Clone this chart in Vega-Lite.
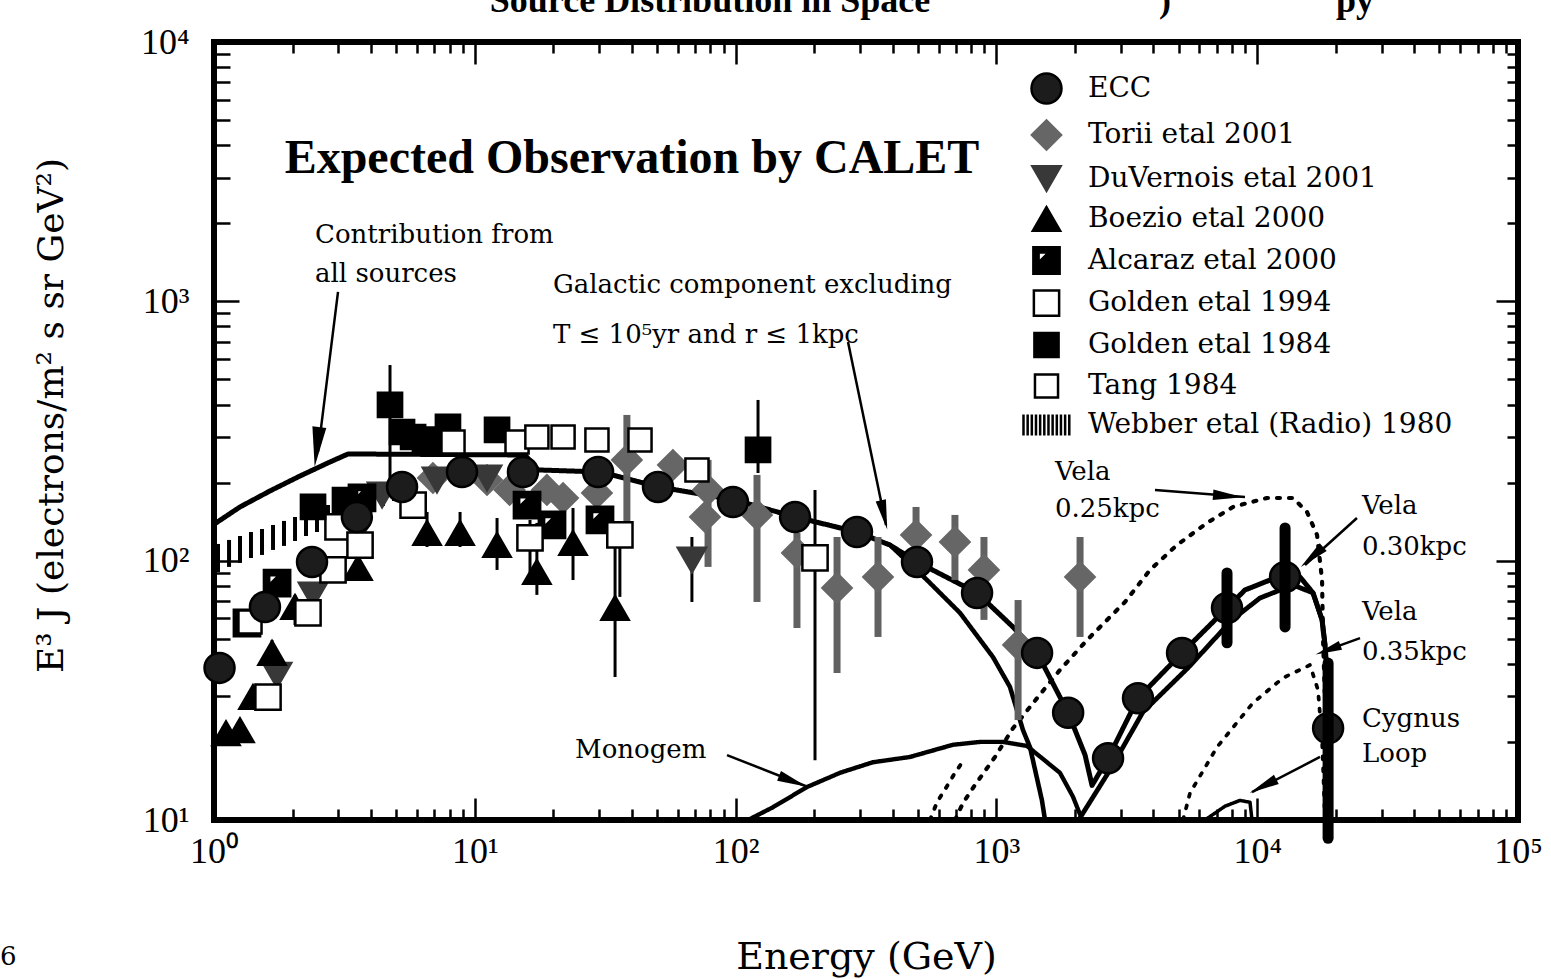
{
"$schema": "https://vega.github.io/schema/vega-lite/v6.json",
"width": 1304, "height": 778,
"autosize": {"type": "none"},
"padding": {"left": 214, "top": 42, "right": 33, "bottom": 159},
"background": "white",
"config": {"view": {"stroke": "black", "strokeWidth": 6}, "axis": {"grid": false, "domain": false}},
"datasets": {
"webber": [
{"E":1.036,"J":90.4,"J2":116.0},{"E":1.142,"J":94.6,"J2":120.2},{"E":1.258,"J":98.0,"J2":124.5},{"E":1.386,"J":102.4,"J2":129.0},
{"E":1.528,"J":105.2,"J2":132.5},{"E":1.684,"J":110.0,"J2":137.3},{"E":1.855,"J":114.0,"J2":142.3},{"E":2.045,"J":119.1,"J2":147.4},
{"E":2.253,"J":124.5,"J2":152.8},{"E":2.483,"J":129.0,"J2":158.2},{"E":2.736,"J":134.9,"J2":163.9},{"E":3.015,"J":138.5,"J2":168.4},
{"E":3.323,"J":144.8,"J2":174.5},{"E":3.662,"J":150.1,"J2":180.8},{"E":4.036,"J":156.9,"J2":187.4},{"E":4.446,"J":162.5,"J2":194.2},
{"E":4.9,"J":169.9,"J2":201.2},{"E":5.4,"J":177.6,"J2":208.4}],
"curves": [
{"curve":"total","E":1.018,"J":139.8},{"curve":"total","E":1.258,"J":161.1},{"curve":"total","E":1.639,"J":185.7},{"curve":"total","E":2.137,"J":212.1},
{"curve":"total","E":2.785,"J":240.2},{"curve":"total","E":3.265,"J":257.9},{"curve":"total","E":15.58,"J":255.6},{"curve":"total","E":17.47,"J":223.8},
{"curve":"total","E":30.2,"J":219.8},{"curve":"total","E":50.85,"J":192.4},{"curve":"total","E":99.5,"J":171.4},{"curve":"total","E":169,"J":147.4},
{"curve":"total","E":292,"J":129.0},{"curve":"total","E":390.8,"J":114.9},{"curve":"total","E":496,"J":98.9},{"curve":"total","E":843,"J":75.1},
{"curve":"total","E":1158,"J":55.5},{"curve":"total","E":1432,"J":44.1},{"curve":"total","E":1884,"J":25.9},{"curve":"total","E":2188,"J":17.8},
{"curve":"total","E":2326,"J":13.6},{"curve":"total","E":2680,"J":17.3},{"curve":"total","E":3491,"J":29.5},{"curve":"total","E":5150,"J":44.1},
{"curve":"total","E":7661,"J":65.7},{"curve":"total","E":8980,"J":77.1},{"curve":"total","E":11195,"J":84.2},{"curve":"total","E":14590,"J":86.5},
{"curve":"total","E":16370,"J":75.1},{"curve":"total","E":17730,"J":59.1},{"curve":"total","E":18200,"J":47.3},{"curve":"total","E":18520,"J":37.2},
{"curve":"vela30","E":2093,"J":10.2},{"curve":"vela30","E":2727,"J":15.6},{"curve":"vela30","E":3648,"J":26.1},{"curve":"vela30","E":5428,"J":38.6},
{"curve":"vela30","E":8006,"J":59.1},{"curve":"vela30","E":10250,"J":71.8},{"curve":"vela30","E":13720,"J":80.6},{"curve":"vela30","E":16370,"J":75.1},
{"curve":"vela30","E":17730,"J":59.1},{"curve":"vela30","E":18200,"J":47.3},
{"curve":"galactic","E":390.8,"J":114.9},{"curve":"galactic","E":542,"J":84.2},{"curve":"galactic","E":725,"J":62.9},{"curve":"galactic","E":970,"J":42.5},
{"curve":"galactic","E":1127,"J":32.6},{"curve":"galactic","E":1265,"J":22.2},{"curve":"galactic","E":1345,"J":19.1},{"curve":"galactic","E":1495,"J":11.9},
{"curve":"galactic","E":1536,"J":10.0},
{"curve":"monogem","E":111.6,"J":10.0},{"curve":"monogem","E":139.1,"J":11.2},{"curve":"monogem","E":187.8,"J":13.4},{"curve":"monogem","E":251.3,"J":15.2},
{"curve":"monogem","E":336.4,"J":16.7},{"curve":"monogem","E":466.5,"J":17.5},{"curve":"monogem","E":681.7,"J":19.5},{"curve":"monogem","E":865,"J":20.0},
{"curve":"monogem","E":1060,"J":20.0},{"curve":"monogem","E":1310,"J":19.3},{"curve":"monogem","E":1753,"J":15.2},{"curve":"monogem","E":1966,"J":12.3},
{"curve":"monogem","E":2093,"J":10.5},
{"curve":"vela25a","E":693.8,"J":10.0},{"curve":"vela25a","E":744.7,"J":11.63},{"curve":"vela25a","E":828,"J":13.65},{"curve":"vela25a","E":987.6,"J":17.5},
{"curve":"vela25a","E":1158,"J":22.6},{"curve":"vela25a","E":1431,"J":29.5},{"curve":"vela25a","E":1753,"J":37.9},{"curve":"vela25a","E":2226,"J":49.4},
{"curve":"vela25a","E":2497,"J":55.5},{"curve":"vela25a","E":3112,"J":69.3},{"curve":"vela25a","E":3882,"J":92.1},{"curve":"vela25a","E":4926,"J":114.9},
{"curve":"vela25a","E":6420,"J":139.8},{"curve":"vela25a","E":8076,"J":161.1},{"curve":"vela25a","E":10905,"J":174.5},{"curve":"vela25a","E":13720,"J":174.5},
{"curve":"vela25a","E":15523,"J":154.1},{"curve":"vela25a","E":16961,"J":125.6},{"curve":"vela25a","E":17730,"J":84.2},{"curve":"vela25a","E":17887,"J":49.4},
{"curve":"vela25a","E":18197,"J":29.0},{"curve":"vela25a","E":18686,"J":17.0},{"curve":"vela25a","E":19016,"J":10.0},
{"curve":"vela25b","E":556.5,"J":10.0},{"curve":"vela25b","E":591.9,"J":11.7},{"curve":"vela25b","E":646.6,"J":13.5},{"curve":"vela25b","E":693.8,"J":15.2},
{"curve":"vela25b","E":757.9,"J":17.3},
{"curve":"vela35","E":5195,"J":10.0},{"curve":"vela35","E":5525,"J":12.7},{"curve":"vela35","E":7014,"J":19.1},{"curve":"vela35","E":9636,"J":28.3},
{"curve":"vela35","E":12560,"J":35.3},{"curve":"vela35","E":15940,"J":39.6},{"curve":"vela35","E":17110,"J":31.7},{"curve":"vela35","E":17730,"J":20.3},
{"curve":"vela35","E":18197,"J":10.0},
{"curve":"cygnus","E":6306,"J":10.0},{"curve":"cygnus","E":7525,"J":11.3},{"curve":"cygnus","E":8590,"J":11.9},{"curve":"cygnus","E":9385,"J":11.7},
{"curve":"cygnus","E":9550,"J":10.0}],
"errGray": [
{"E":38.3,"J":137.3,"J2":364.7},{"E":78.4,"J":94.6,"J2":244.6},{"E":120.8,"J":69.3,"J2":214.1},{"E":171.9,"J":55.0,"J2":127.9},
{"E":244.9,"J":36.9,"J2":123.4},{"E":351.6,"J":50.8,"J2":123.4},{"E":491.9,"J":112.9,"J2":161.1},{"E":693.5,"J":84.2,"J2":150.1},
{"E":896,"J":59.1,"J2":123.4},{"E":1211,"J":24.3,"J2":70.5},{"E":2093,"J":50.8,"J2":123.4}],
"errBlack": [
{"E":1.669,"J":39.6,"J2":49.4},{"E":2.045,"J":56.5,"J2":73.8},{"E":3.566,"J":84.2,"J2":127.9},{"E":6.56,"J":112.9,"J2":154.1},
{"E":8.78,"J":112.9,"J2":154.1},{"E":12.17,"J":92.1,"J2":146.1},{"E":17.3,"J":73.8,"J2":139.8},{"E":23.8,"J":84.2,"J2":159.7},
{"E":34.5,"J":35.6,"J2":139.8},{"E":4.73,"J":204.7,"J2":568},{"E":121.9,"J":217.8,"J2":416.6},{"E":201.6,"J":17.0,"J2":187.4},
{"E":36.0,"J":72.5,"J2":125.6},{"E":16.28,"J":84.2,"J2":143.5},{"E":68.0,"J":69.3,"J2":123.4}],
"errECC": [{"E":7661,"J":48.2,"J2":89.7},{"E":12790,"J":55.5,"J2":133.7},{"E":18700,"J":8.5,"J2":40.3}],
"pts": [
{"series":"Torii etal 2001","E":6.91,"J":208.4},{"series":"Torii etal 2001","E":11.14,"J":204.7},{"series":"Torii etal 2001","E":13.6,"J":187.4},
{"series":"Torii etal 2001","E":18.9,"J":187.4},{"series":"Torii etal 2001","E":21.8,"J":174.5},{"series":"Torii etal 2001","E":29.4,"J":182.4},
{"series":"Torii etal 2001","E":38.3,"J":244.6},{"series":"Torii etal 2001","E":57.5,"J":233.9},{"series":"Torii etal 2001","E":78.4,"J":187.4},
{"series":"Torii etal 2001","E":76.3,"J":147.4},{"series":"Torii etal 2001","E":120.8,"J":150.1},{"series":"Torii etal 2001","E":171.9,"J":107.1},
{"series":"Torii etal 2001","E":244.9,"J":78.5},{"series":"Torii etal 2001","E":351.6,"J":86.5},{"series":"Torii etal 2001","E":491.9,"J":125.6},
{"series":"Torii etal 2001","E":693.5,"J":118.1},{"series":"Torii etal 2001","E":896,"J":92.1},{"series":"Torii etal 2001","E":1211,"J":47.3},
{"series":"Torii etal 2001","E":2093,"J":86.5},
{"series":"DuVernois etal 2001","E":1.745,"J":36.2},{"series":"DuVernois etal 2001","E":2.397,"J":73.8},{"series":"DuVernois etal 2001","E":3.47,"J":123.4},
{"series":"DuVernois etal 2001","E":4.41,"J":179.2},{"series":"DuVernois etal 2001","E":7.16,"J":204.7},{"series":"DuVernois etal 2001","E":11.14,"J":208.4},
{"series":"DuVernois etal 2001","E":68.0,"J":100.6},
{"series":"Boezio etal 2000","E":1.112,"J":21.6},{"series":"Boezio etal 2000","E":1.258,"J":22.2},{"series":"Boezio etal 2000","E":1.411,"J":29.8},
{"series":"Boezio etal 2000","E":1.669,"J":44.1},{"series":"Boezio etal 2000","E":2.045,"J":66.3},{"series":"Boezio etal 2000","E":3.566,"J":93.7},
{"series":"Boezio etal 2000","E":6.56,"J":127.9},{"series":"Boezio etal 2000","E":8.78,"J":127.9},{"series":"Boezio etal 2000","E":12.17,"J":114.9},
{"series":"Boezio etal 2000","E":17.3,"J":90.4},{"series":"Boezio etal 2000","E":23.8,"J":117.0},{"series":"Boezio etal 2000","E":34.5,"J":65.7},
{"series":"Alcaraz etal 2000","E":1.338,"J":57.5},{"series":"Alcaraz etal 2000","E":1.745,"J":82.0},{"series":"Alcaraz etal 2000","E":3.694,"J":174.5},
{"series":"Alcaraz etal 2000","E":15.86,"J":163.9},{"series":"Alcaraz etal 2000","E":19.77,"J":137.3},{"series":"Alcaraz etal 2000","E":30.2,"J":143.5},
{"series":"Golden etal 1994","E":1.611,"J":29.8},{"series":"Golden etal 1994","E":2.293,"J":62.9},{"series":"Golden etal 1994","E":2.86,"J":92.1},
{"series":"Golden etal 1994","E":2.989,"J":134.9},{"series":"Golden etal 1994","E":3.63,"J":114.9},{"series":"Golden etal 1994","E":5.8,"J":163.9},
{"series":"Golden etal 1994","E":16.28,"J":122.3},{"series":"Golden etal 1994","E":36.0,"J":125.6},{"series":"Golden etal 1994","E":201.6,"J":102.4},
{"series":"Golden etal 1984","E":2.397,"J":161.1},{"series":"Golden etal 1984","E":3.179,"J":171.4},{"series":"Golden etal 1984","E":4.73,"J":398.6},
{"series":"Golden etal 1984","E":5.26,"J":313.5},{"series":"Golden etal 1984","E":5.8,"J":299.9},{"series":"Golden etal 1984","E":6.44,"J":292.1},
{"series":"Golden etal 1984","E":7.16,"J":292.1},{"series":"Golden etal 1984","E":7.89,"J":327.8},{"series":"Golden etal 1984","E":12.17,"J":319.2},
{"series":"Golden etal 1984","E":121.9,"J":267.3},
{"series":"Tang 1984","E":1.374,"J":58.0},{"series":"Tang 1984","E":8.25,"J":287},{"series":"Tang 1984","E":14.52,"J":287},
{"series":"Tang 1984","E":17.3,"J":299.9},{"series":"Tang 1984","E":21.8,"J":299.9},{"series":"Tang 1984","E":29.4,"J":292.1},
{"series":"Tang 1984","E":43.0,"J":292.1},{"series":"Tang 1984","E":71.1,"J":223.7},
{"series":"ECC","E":1.05,"J":38.6},{"series":"ECC","E":1.568,"J":66.3},{"series":"ECC","E":2.376,"J":98.9},{"series":"ECC","E":3.53,"J":147.4},
{"series":"ECC","E":5.26,"J":192.4},{"series":"ECC","E":8.93,"J":219.8},{"series":"ECC","E":15.3,"J":219.8},{"series":"ECC","E":29.7,"J":219.8},
{"series":"ECC","E":50.4,"J":192.4},{"series":"ECC","E":97.7,"J":168.4},{"series":"ECC","E":169,"J":147.4},{"series":"ECC","E":292,"J":129.0},
{"series":"ECC","E":496,"J":98.9},{"series":"ECC","E":843,"J":75.1},{"series":"ECC","E":1432,"J":44.1},{"series":"ECC","E":1884,"J":25.9},
{"series":"ECC","E":2680,"J":17.3},{"series":"ECC","E":3491,"J":29.5},{"series":"ECC","E":5150,"J":44.1},{"series":"ECC","E":7661,"J":65.7},
{"series":"ECC","E":12790,"J":86.5},{"series":"ECC","E":18700,"J":22.6}],
"arrows": [
{"E":2.989,"J":1087,"E2":2.505,"J2":262.6},{"E":269.8,"J":697,"E2":377.3,"J2":137.3},{"E":92.7,"J":17.8,"E2":189.5,"J2":13.4},
{"E":4056,"J":187.4,"E2":8980,"J2":176.1},{"E":24130,"J":146.1,"E2":15250,"J2":96.2},{"E":24790,"J":50.3,"E2":17730,"J2":44.5},
{"E":17410,"J":17.5,"E2":9550,"J2":12.8}],
"heads": [
{"id":"contrib","E":2.483,"J":274.5},{"id":"gal","E":370.7,"J":150.1},{"id":"mono","E":166,"J":14.1},{"id":"vela25","E":7727,"J":177.6},
{"id":"vela30","E":16220,"J":103.3},{"id":"vela35","E":18690,"J":45.3},{"id":"cyg","E":10525,"J":13.5}],
"txt": [
{"kind":"note","text":"Contribution from","E":2.44,"J":1680},
{"kind":"note","text":"all sources","E":2.44,"J":1188},
{"kind":"note","text":"Galactic component excluding","E":19.94,"J":1078},
{"kind":"note","text":"T ≤ 10⁵yr and r ≤ 1kpc","E":19.94,"J":691},
{"kind":"note","text":"Monogem","E":24.23,"J":17.35},
{"kind":"note","text":"Vela","E":1677,"J":204.7},
{"kind":"note","text":"0.25kpc","E":1677,"J":147.4},
{"kind":"note","text":"Vela","E":25220,"J":151.4},
{"kind":"note","text":"0.30kpc","E":25220,"J":105.2},
{"kind":"note","text":"Vela","E":25220,"J":59.1},
{"kind":"note","text":"0.35kpc","E":25220,"J":41.4},
{"kind":"note","text":"Cygnus","E":25220,"J":22.8},
{"kind":"note","text":"Loop","E":25220,"J":16.7},
{"kind":"note","text":"6","E":0.151,"J":2.75},
{"kind":"big","text":"Expected Observation by CALET","E":40.07,"J":3128},
{"kind":"top","text":"Source Distribution in Space","E":79.76,"J":13070},
{"kind":"top","text":")","E":4431,"J":13070},
{"kind":"top","text":"py","E":23710,"J":13070}]
},
"layer": [
{
"encoding": {
 "x": {"field": "E", "type": "quantitative", "title": "Energy (GeV)",
  "scale": {"type": "log", "domain": [1, 100000], "nice": false},
  "axis": {"orient": "bottom",
   "values": [1,2,3,4,5,6,7,8,9,10,20,30,40,50,60,70,80,90,100,200,300,400,500,600,700,800,900,1000,2000,3000,4000,5000,6000,7000,8000,9000,10000,20000,30000,40000,50000,60000,70000,80000,90000,100000],
   "labelExpr": "datum.value==1?'10⁰':datum.value==10?'10¹':datum.value==100?'10²':datum.value==1000?'10³':datum.value==10000?'10⁴':datum.value==100000?'10⁵':''",
   "tickSize": {"condition": {"test": "indexof([1,10,100,1000,10000,100000], datum.value) >= 0", "value": -22}, "value": -11},
   "tickWidth": 2.5, "tickColor": "black", "domain": false, "grid": false,
   "labelFont": "Liberation Serif", "labelFontSize": 36, "labelColor": "black", "labelPadding": 36,
   "labelOverlap": false, "labelFlush": false, "labelBound": false,
   "titleFont": "DejaVu Serif", "titleFontSize": 38, "titleFontWeight": "normal", "titleColor": "black",
   "titleY": 148, "titleBaseline": "alphabetic"}},
 "y": {"field": "J", "type": "quantitative", "title": "E³ J (electrons/m² s sr GeV²)",
  "scale": {"type": "log", "domain": [10, 10000], "nice": false},
  "axis": {"orient": "left",
   "values": [10,20,30,40,50,60,70,80,90,100,200,300,400,500,600,700,800,900,1000,2000,3000,4000,5000,6000,7000,8000,9000,10000],
   "labelExpr": "datum.value==10?'10¹':datum.value==100?'10²':datum.value==1000?'10³':datum.value==10000?'10⁴':''",
   "tickSize": {"condition": {"test": "indexof([10,100,1000,10000], datum.value) >= 0", "value": -25}, "value": -16},
   "tickWidth": 2.5, "tickColor": "black", "domain": false, "grid": false,
   "labelFont": "Liberation Serif", "labelFontSize": 36, "labelColor": "black", "labelPadding": 50,
   "labelOverlap": false, "labelFlush": false, "labelBound": false,
   "titleFont": "DejaVu Serif", "titleFontSize": 36, "titleFontWeight": "normal", "titleColor": "black",
   "titleX": -152, "titleY": 373, "titleAngle": -90, "titleBaseline": "alphabetic", "titleAlign": "center"}}
},
"layer": [
 {"data": {"name": "webber"}, "mark": {"type": "rule", "strokeWidth": 4, "color": "black"}, "encoding": {"y2": {"field": "J2"}}},
 {"data": {"name": "curves"}, "mark": {"type": "line", "color": "black", "strokeCap": "round", "strokeJoin": "round"},
  "encoding": {
   "strokeWidth": {"field": "curve", "type": "nominal", "legend": null, "scale": {"domain": ["total","vela30","galactic","monogem","vela25a","vela25b","vela35","cygnus"], "range": [5,3.5,2.5,2.5,2.5,2.5,2.5,2.5]}},
   "strokeDash": {"field": "curve", "type": "nominal", "legend": null, "scale": {"domain": ["total","vela30","galactic","monogem","vela25a","vela25b","vela35","cygnus"], "range": [[1,0],[1,0],[1,0],[1,0],[3,9],[3,9],[3,9],[1,0]]}}}},
 {"data": {"name": "errGray"}, "mark": {"type": "rule", "strokeWidth": 7, "color": "#616161"}, "encoding": {"y2": {"field": "J2"}}},
 {"data": {"name": "errBlack"}, "mark": {"type": "rule", "strokeWidth": 3, "color": "black"}, "encoding": {"y2": {"field": "J2"}}},
 {"data": {"name": "pts"}, "mark": {"type": "point", "filled": true, "strokeWidth": 2.5, "opacity": 1},
  "encoding": {
   "shape": {"field": "series", "type": "nominal",
    "scale": {"domain": ["ECC","Torii etal 2001","DuVernois etal 2001","Boezio etal 2000","Alcaraz etal 2000","Golden etal 1994","Golden etal 1984","Tang 1984","Webber etal (Radio) 1980"],
     "range": ["circle","diamond","triangle-down","triangle-up","M-1,-1H1V1H-1ZM-0.6,-0.6V0.15L0.15,-0.6Z","square","square","square","M-2.1,-0.95V0.95M-1.72,-0.95V0.95M-1.34,-0.95V0.95M-0.96,-0.95V0.95M-0.58,-0.95V0.95M-0.2,-0.95V0.95M0.18,-0.95V0.95M0.56,-0.95V0.95M0.94,-0.95V0.95M1.32,-0.95V0.95M1.7,-0.95V0.95M2.08,-0.95V0.95"]},
    "legend": {"title": null, "orient": "none", "legendX": 816, "legendY": 30, "padding": 0,
     "labelFont": "DejaVu Serif", "labelFontSize": 28, "labelColor": "black", "labelLimit": 700,
     "rowPadding": 6, "labelOffset": 25, "symbolStrokeWidth": 2.5}},
   "fill": {"field": "series", "type": "nominal",
    "scale": {"domain": ["ECC","Torii etal 2001","DuVernois etal 2001","Boezio etal 2000","Alcaraz etal 2000","Golden etal 1994","Golden etal 1984","Tang 1984","Webber etal (Radio) 1980"],
     "range": ["#1c1c1c","#666666","#383838","#000000","#000000","#ffffff","#000000","#ffffff","#000000"]}},
   "stroke": {"field": "series", "type": "nominal",
    "scale": {"domain": ["ECC","Torii etal 2001","DuVernois etal 2001","Boezio etal 2000","Alcaraz etal 2000","Golden etal 1994","Golden etal 1984","Tang 1984","Webber etal (Radio) 1980"],
     "range": ["#000000","#666666","#383838","#000000","#000000","#000000","#000000","#000000","#000000"]}},
   "size": {"field": "series", "type": "nominal",
    "scale": {"domain": ["ECC","Torii etal 2001","DuVernois etal 2001","Boezio etal 2000","Alcaraz etal 2000","Golden etal 1994","Golden etal 1984","Tang 1984","Webber etal (Radio) 1980"],
     "range": [900,480,500,220,230,260,220,130,900]}}}},
 {"data": {"name": "errECC"}, "mark": {"type": "rule", "strokeWidth": 11, "color": "black", "strokeCap": "round"}, "encoding": {"y2": {"field": "J2"}}},
 {"data": {"name": "arrows"}, "mark": {"type": "rule", "strokeWidth": 2.5, "color": "black"}, "encoding": {"x2": {"field": "E2"}, "y2": {"field": "J2"}}},
 {"data": {"name": "heads"}, "transform": [{"filter": "datum.id == 'contrib'"}], "mark": {"type": "point", "shape": "M0,-1L0.35,1L-0.35,1Z", "filled": true, "color": "black", "opacity": 1, "size": 1600, "angle": 186.7}},
 {"data": {"name": "heads"}, "transform": [{"filter": "datum.id == 'gal'"}], "mark": {"type": "point", "shape": "M0,-1L0.35,1L-0.35,1Z", "filled": true, "color": "black", "opacity": 1, "size": 900, "angle": 167.7}},
 {"data": {"name": "heads"}, "transform": [{"filter": "datum.id == 'mono'"}], "mark": {"type": "point", "shape": "M0,-1L0.35,1L-0.35,1Z", "filled": true, "color": "black", "opacity": 1, "size": 900, "angle": 111.6}},
 {"data": {"name": "heads"}, "transform": [{"filter": "datum.id == 'vela25'"}], "mark": {"type": "point", "shape": "M0,-1L0.35,1L-0.35,1Z", "filled": true, "color": "black", "opacity": 1, "size": 900, "angle": 94.4}},
 {"data": {"name": "heads"}, "transform": [{"filter": "datum.id == 'vela30'"}], "mark": {"type": "point", "shape": "M0,-1L0.35,1L-0.35,1Z", "filled": true, "color": "black", "opacity": 1, "size": 900, "angle": 228.5}},
 {"data": {"name": "heads"}, "transform": [{"filter": "datum.id == 'vela35'"}], "mark": {"type": "point", "shape": "M0,-1L0.35,1L-0.35,1Z", "filled": true, "color": "black", "opacity": 1, "size": 700, "angle": 249.8}},
 {"data": {"name": "heads"}, "transform": [{"filter": "datum.id == 'cyg'"}], "mark": {"type": "point", "shape": "M0,-1L0.35,1L-0.35,1Z", "filled": true, "color": "black", "opacity": 1, "size": 900, "angle": 242.8}},
 {"data": {"name": "txt"}, "transform": [{"filter": "datum.kind == 'note'"}], "mark": {"type": "text", "align": "left", "baseline": "alphabetic", "font": "DejaVu Serif", "fontSize": 26, "color": "black"}, "encoding": {"text": {"field": "text"}}},
 {"data": {"name": "txt"}, "transform": [{"filter": "datum.kind == 'big'"}], "mark": {"type": "text", "align": "center", "baseline": "alphabetic", "font": "Liberation Serif", "fontWeight": "bold", "fontSize": 48, "color": "black"}, "encoding": {"text": {"field": "text"}}},
 {"data": {"name": "txt"}, "transform": [{"filter": "datum.kind == 'top'"}], "mark": {"type": "text", "align": "center", "baseline": "alphabetic", "font": "Liberation Serif", "fontWeight": "bold", "fontSize": 36, "color": "black"}, "encoding": {"text": {"field": "text"}}}
]
},
{
 "data": {"values": [{"E": 1, "J": 10}]},
 "mark": {"type": "point", "opacity": 0},
 "encoding": {
  "x": {"field": "E", "type": "quantitative", "scale": {"type": "log", "domain": [1, 100000], "nice": false},
   "axis": {"orient": "top", "title": null, "labels": false, "domain": false, "grid": false,
    "values": [1,2,3,4,5,6,7,8,9,10,20,30,40,50,60,70,80,90,100,200,300,400,500,600,700,800,900,1000,2000,3000,4000,5000,6000,7000,8000,9000,10000,20000,30000,40000,50000,60000,70000,80000,90000,100000],
    "tickSize": {"condition": {"test": "indexof([1,10,100,1000,10000,100000], datum.value) >= 0", "value": -22}, "value": -11},
    "tickWidth": 2.5, "tickColor": "black"}},
  "y": {"field": "J", "type": "quantitative", "scale": {"type": "log", "domain": [10, 10000], "nice": false},
   "axis": {"orient": "right", "title": null, "labels": false, "domain": false, "grid": false,
    "values": [10,20,30,40,50,60,70,80,90,100,200,300,400,500,600,700,800,900,1000,2000,3000,4000,5000,6000,7000,8000,9000,10000],
    "tickSize": {"condition": {"test": "indexof([10,100,1000,10000], datum.value) >= 0", "value": -22}, "value": -11},
    "tickWidth": 2.5, "tickColor": "black"}}
 }
}
],
"resolve": {"axis": {"x": "independent", "y": "independent"}}
}
